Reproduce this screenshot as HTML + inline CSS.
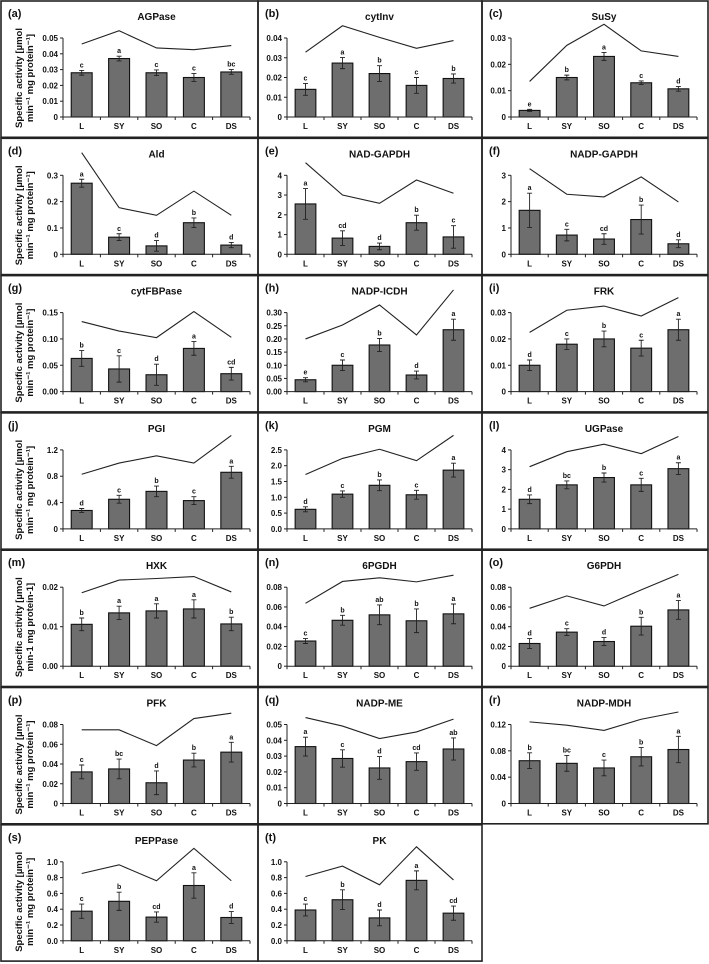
<!DOCTYPE html>
<html><head><meta charset="utf-8">
<style>
html,body{margin:0;padding:0;background:#fff;}
svg{display:block;font-family:"Liberation Sans",sans-serif;}
.tk{font-size:8px;font-weight:bold;fill:#111;}
.ttl{font-size:10px;font-weight:bold;fill:#111;}
.lab{font-size:11px;font-weight:bold;fill:#111;}
.let{font-size:7px;font-weight:bold;fill:#111;}
.yt{font-size:9.5px;font-weight:bold;fill:#111;}
</style></head><body>
<svg id="fig" width="709" height="964" viewBox="0 0 709 964"></svg>
<script>
const categories = ["L","SY","SO","C","DS"];

const agpaseMean=[0.028,0.037,0.028,0.025,0.0285], agpaseErr=[0.0015,0.0015,0.0018,0.0025,0.0015], agpaseLine=[0.0462,0.0546,0.0437,0.0426,0.0452], agpaseLetters=["c","a","c","c","bc"], agpaseTicks=["0","0.01","0.02","0.03","0.04","0.05"];
const cytinvMean=[0.014,0.0273,0.022,0.016,0.0195], cytinvErr=[0.003,0.0028,0.004,0.004,0.0023], cytinvLine=[0.0328,0.0462,0.0403,0.0348,0.0387], cytinvLetters=["c","a","b","c","b"], cytinvTicks=["0","0.01","0.02","0.03","0.04"];
const susyMean=[0.0025,0.015,0.023,0.013,0.0107], susyErr=[0.0004,0.0009,0.0015,0.0007,0.0009], susyLine=[0.0135,0.0272,0.0352,0.0251,0.023], susyLetters=["e","b","a","c","d"], susyTicks=["0","0.01","0.02","0.03"];
const aldMean=[0.27,0.065,0.032,0.12,0.035], aldErr=[0.015,0.013,0.02,0.018,0.01], aldLine=[0.386,0.177,0.148,0.24,0.148], aldLetters=["a","c","d","b","d"], aldTicks=["0","0.1","0.2","0.3"];
const nadgapdhMean=[2.55,0.82,0.4,1.6,0.88], nadgapdhErr=[0.78,0.37,0.17,0.38,0.57], nadgapdhLine=[4.64,3.0,2.58,3.76,3.09], nadgapdhLetters=["a","cd","d","b","c"], nadgapdhTicks=["0","1","2","3","4"];
const nadpgapdhMean=[1.67,0.73,0.58,1.32,0.4], nadpgapdhErr=[0.65,0.22,0.2,0.55,0.15], nadpgapdhLine=[3.25,2.28,2.18,2.94,1.99], nadpgapdhLetters=["a","c","cd","b","d"], nadpgapdhTicks=["0","1","2","3"];
const cytfbpMean=[0.063,0.043,0.032,0.082,0.034], cytfbpErr=[0.015,0.025,0.02,0.013,0.012], cytfbpLine=[0.133,0.115,0.1025,0.152,0.103], cytfbpLetters=["b","c","d","a","cd"], cytfbpTicks=["0.00","0.05","0.10","0.15"];
const icdhMean=[0.045,0.1,0.177,0.063,0.235], icdhErr=[0.008,0.02,0.025,0.015,0.04], icdhLine=[0.2,0.253,0.329,0.215,0.386], icdhLetters=["e","c","b","d","a"], icdhTicks=["0.00","0.05","0.10","0.15","0.20","0.25","0.30"];
const frkMean=[0.010,0.018,0.020,0.0165,0.0235], frkErr=[0.002,0.002,0.003,0.003,0.004], frkLine=[0.0225,0.0309,0.0325,0.0287,0.0357], frkLetters=["d","c","b","c","a"], frkTicks=["0","0.01","0.02","0.03"];
const pgiMean=[0.28,0.45,0.57,0.43,0.86], pgiErr=[0.03,0.06,0.08,0.06,0.09], pgiLine=[0.83,1.0,1.11,1.0,1.42], pgiLetters=["d","c","b","c","a"], pgiTicks=["0","0.4","0.8","1.2"];
const pgmMean=[0.62,1.1,1.38,1.08,1.86], pgmErr=[0.08,0.1,0.17,0.14,0.22], pgmLine=[1.72,2.23,2.52,2.16,2.96], pgmLetters=["d","c","b","c","a"], pgmTicks=["0.0","0.5","1.0","1.5","2.0","2.5"];
const ugpaseMean=[1.5,2.23,2.6,2.23,3.05], ugpaseErr=[0.22,0.2,0.23,0.33,0.3], ugpaseLine=[3.15,3.91,4.29,3.81,4.68], ugpaseLetters=["d","bc","b","c","a"], ugpaseTicks=["0","1","2","3","4"];
const hxkMean=[0.0106,0.0135,0.014,0.0145,0.0107], hxkErr=[0.0016,0.0017,0.0018,0.0023,0.0017], hxkLine=[0.0186,0.0218,0.0222,0.0227,0.0188], hxkLetters=["b","a","a","a","b"], hxkTicks=["0.00","0.01","0.02"];
const pgdhMean=[0.0255,0.0465,0.052,0.046,0.053], pgdhErr=[0.0025,0.005,0.01,0.012,0.01], pgdhLine=[0.0637,0.0858,0.0895,0.0854,0.0922], pgdhLetters=["c","b","ab","b","a"], pgdhTicks=["0","0.02","0.04","0.06","0.08"];
const g6pdhMean=[0.023,0.0345,0.025,0.0405,0.057], g6pdhErr=[0.005,0.0035,0.004,0.009,0.0095], g6pdhLine=[0.0586,0.0712,0.061,0.0773,0.093], g6pdhLetters=["d","c","d","b","a"], g6pdhTicks=["0","0.02","0.04","0.06","0.08"];
const pfkMean=[0.032,0.035,0.021,0.044,0.052], pfkErr=[0.007,0.01,0.012,0.007,0.01], pfkLine=[0.0746,0.0746,0.0586,0.086,0.0915], pfkLetters=["c","bc","d","b","a"], pfkTicks=["0","0.02","0.04","0.06","0.08"];
const meMean=[0.036,0.0285,0.0225,0.0265,0.0345], meErr=[0.006,0.0055,0.0072,0.0055,0.007], meLine=[0.0544,0.049,0.0411,0.0453,0.0534], meLetters=["a","c","d","cd","ab"], meTicks=["0","0.01","0.02","0.03","0.04","0.05"];
const mdhMean=[0.065,0.061,0.054,0.071,0.082], mdhErr=[0.012,0.012,0.012,0.014,0.02], mdhLine=[0.124,0.119,0.111,0.128,0.139], mdhLetters=["b","bc","c","b","a"], mdhTicks=["0","0.04","0.08","0.12"];
const peppaseMean=[0.375,0.5,0.3,0.7,0.295], peppaseErr=[0.09,0.115,0.065,0.16,0.075], peppaseLine=[0.852,0.962,0.76,1.17,0.76], peppaseLetters=["c","b","cd","a","d"], peppaseTicks=["0.0","0.2","0.4","0.6","0.8","1.0"];
const pkMean=[0.39,0.52,0.29,0.765,0.35], pkErr=[0.075,0.125,0.1,0.12,0.09], pkLine=[0.814,0.945,0.709,1.19,0.77], pkLetters=["c","b","d","a","cd"], pkTicks=["0.0","0.2","0.4","0.6","0.8","1.0"];

const panels = [
 ["a","AGPase",agpaseMean,agpaseErr,agpaseLine,agpaseLetters,agpaseTicks],
 ["b","cytInv",cytinvMean,cytinvErr,cytinvLine,cytinvLetters,cytinvTicks],
 ["c","SuSy",susyMean,susyErr,susyLine,susyLetters,susyTicks],
 ["d","Ald",aldMean,aldErr,aldLine,aldLetters,aldTicks],
 ["e","NAD-GAPDH",nadgapdhMean,nadgapdhErr,nadgapdhLine,nadgapdhLetters,nadgapdhTicks],
 ["f","NADP-GAPDH",nadpgapdhMean,nadpgapdhErr,nadpgapdhLine,nadpgapdhLetters,nadpgapdhTicks],
 ["g","cytFBPase",cytfbpMean,cytfbpErr,cytfbpLine,cytfbpLetters,cytfbpTicks],
 ["h","NADP-ICDH",icdhMean,icdhErr,icdhLine,icdhLetters,icdhTicks],
 ["i","FRK",frkMean,frkErr,frkLine,frkLetters,frkTicks],
 ["j","PGI",pgiMean,pgiErr,pgiLine,pgiLetters,pgiTicks],
 ["k","PGM",pgmMean,pgmErr,pgmLine,pgmLetters,pgmTicks],
 ["l","UGPase",ugpaseMean,ugpaseErr,ugpaseLine,ugpaseLetters,ugpaseTicks],
 ["m","HXK",hxkMean,hxkErr,hxkLine,hxkLetters,hxkTicks],
 ["n","6PGDH",pgdhMean,pgdhErr,pgdhLine,pgdhLetters,pgdhTicks],
 ["o","G6PDH",g6pdhMean,g6pdhErr,g6pdhLine,g6pdhLetters,g6pdhTicks],
 ["p","PFK",pfkMean,pfkErr,pfkLine,pfkLetters,pfkTicks],
 ["q","NADP-ME",meMean,meErr,meLine,meLetters,meTicks],
 ["r","NADP-MDH",mdhMean,mdhErr,mdhLine,mdhLetters,mdhTicks],
 ["s","PEPPase",peppaseMean,peppaseErr,peppaseLine,peppaseLetters,peppaseTicks],
 ["t","PK",pkMean,pkErr,pkLine,pkLetters,pkTicks]
];

const NS="http://www.w3.org/2000/svg";
const svg=document.getElementById('fig');
function mk(tag,attrs,parent,text){
  const e=document.createElementNS(NS,tag);
  for(const k in attrs) e.setAttribute(k,attrs[k]);
  if(text!==undefined) e.textContent=text;
  (parent||svg).appendChild(e);
  return e;
}
const colBox=[[1,258],[258,482],[482,708]];
const colAxis=[[63,250],[287,472],[511,697]];
const rowH=137.3;

panels.forEach((p,idx)=>{
  const [lab,title,mean,err,line,letters,ticks]=p;
  const r=Math.floor(idx/3), c=idx%3;
  const t=r*rowH;
  const g=mk('g',{});
  
  
  const bx=colBox[c];
  const box=mk('rect',{x:bx[0],y:t+1,width:bx[1]-bx[0],height:rowH-1,fill:'none',stroke:'#222','stroke-width':1.6},g);
  
  
  const [x0,x1]=colAxis[c];
  const y0=t+117, yTopTick=t+38;
  const maxV=parseFloat(ticks[ticks.length-1]);
  const ys=v=>y0-(v/maxV)*(y0-yTopTick);
  const step=(x1-x0)/categories.length;
  const xc=i=>x0+step*(i+0.5);
  const pl=mk('text',{x:bx[0]+7,y:t+17,class:'lab'},g,'('+lab+')');
  
  
  const tt=mk('text',{x:(x0+x1)/2,y:t+20,class:'ttl','text-anchor':'middle'},g,title);
  
  
  if(c===0){
    const cy=t+78;
    const sup = title==='HXK';
    const t1=mk('text',{x:0,y:0,class:'yt','text-anchor':'middle',transform:`translate(22,${cy}) rotate(-90)`},g,'Specific activity [µmol');
    
    
    const t2=mk('text',{x:0,y:0,class:'yt','text-anchor':'middle',transform:`translate(33,${cy}) rotate(-90)`},g,sup?'min-1 mg protein-1]':'min⁻¹ mg protein⁻¹]');
    
    
  }
  mean.forEach((v,i)=>{
    const bw=step*0.56;
    const b=mk('rect',{x:xc(i)-bw/2,y:ys(v),width:bw,height:y0-ys(v),fill:'#6e6e6e',stroke:'#111','stroke-width':1.1},g);
    
    
    const e=err[i];
    const eb=mk('path',{d:`M${xc(i)},${ys(v+e)}V${ys(v-e)}M${xc(i)-2.5},${ys(v+e)}h5M${xc(i)-2.5},${ys(v-e)}h5`,stroke:'#222','stroke-width':0.9,fill:'none'},g);
    
    
    const lt=mk('text',{x:xc(i),y:ys(v+e)-3,class:'let','text-anchor':'middle'},g,letters[i]);
    
    
    const cl=mk('text',{x:xc(i),y:t+129,class:'tk','text-anchor':'middle'},g,categories[i]);
    
    
  });
  const ax=mk('path',{d:`M${x0},${yTopTick}V${y0}H${x1}`,stroke:'#222','stroke-width':1,fill:'none'},g);
  
  
  for(let i=0;i<=categories.length;i++){
    mk('path',{d:`M${x0+step*i},${y0}v3`,stroke:'#222','stroke-width':1},g);
  }
  ticks.forEach(tv=>{
    const y=ys(parseFloat(tv));
    mk('path',{d:`M${x0-3},${y}H${x0}`,stroke:'#222','stroke-width':1},g);
    const tl=mk('text',{x:x0-5,y:y+3,class:'tk','text-anchor':'end'},g,tv);
    
    
  });
  const pts=line.map((v,i)=>xc(i)+','+ys(v)).join(' ');
  const ln=mk('polyline',{points:pts,fill:'none',stroke:'#222','stroke-width':1.1},g);
  
  
});
</script>
</body></html>
